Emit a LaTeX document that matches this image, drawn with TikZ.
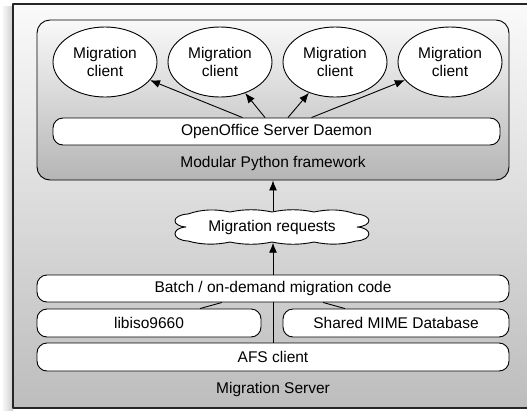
\documentclass[tikz,border=0pt]{standalone}
\usepackage{fontspec}
\setmainfont{Liberation Sans}
\usetikzlibrary{arrows.meta,calc,shapes.geometric}

\begin{document}
\begin{tikzpicture}[x=1pt,y=-1pt,>={Latex[length=10pt,width=8pt]},line join=round,
  every node/.style={font=\fontsize{15.5}{18}\selectfont,align=center,inner sep=0pt},
  client/.style={ellipse,draw,fill=white,line width=0.9pt,minimum width=104pt,minimum height=70pt},
  bar/.style={rectangle,rounded corners=10pt,draw,fill=white,line width=0.9pt,minimum height=27pt},
  link/.style={line width=0.9pt}]
  \clip (0,0) rectangle (527,410);
  % server box and shadow
  \shade[left color=white,right color=gray!40] (1,6) rectangle (13,410);
  \shade[top color=gray!4,bottom color=gray!52] (13,4) rectangle (560,408);
  \draw[line width=1.1pt,black!85] (13,4) rectangle (560,408);
  % python framework
  \node[draw,rounded corners=13pt,top color=gray!5,bottom color=gray!58,line width=0.9pt,
    minimum width=472pt,minimum height=160pt] (fw) at (273,100) {};
  \node[client] (c1) at (105,62) {Migration\\client};
  \node[client] (c2) at (220,62) {Migration\\client};
  \node[client] (c3) at (335,62) {Migration\\client};
  \node[client] (c4) at (450,62) {Migration\\client};
  \node[bar,minimum width=447pt] (daemon) at (276.5,131.5) {OpenOffice Server Daemon};
  \node (fwlabel) at (273,163) {Modular Python framework};
  \coordinate (d1) at ($(daemon.north)+(-34,0)$);
  \coordinate (d2) at ($(daemon.north)+(-11.5,0)$);
  \coordinate (d3) at ($(daemon.north)+(11.5,0)$);
  \coordinate (d4) at ($(daemon.north)+(35,0)$);
  \draw[link,->] (d1) -- (c1);
  \draw[link,->] (d2) -- (c2);
  \draw[link,->] (d3) -- (c3);
  \draw[link,->] (d4) -- (c4);
  % requests cloud
  \begin{scope}[shift={(272,227)}]
    \draw[link,fill=white] (-84,-13) .. controls (-70,-18) and (-56,-18) .. (-42,-15)
      .. controls (-28,-18) and (-14,-18) .. (0,-15)
      .. controls (14,-18) and (28,-18) .. (42,-15)
      .. controls (56,-18) and (70,-18) .. (84,-13)
      .. controls (101,-12) and (101,-1) .. (85,0)
      .. controls (101,1) and (101,13) .. (84,14)
      .. controls (70,18) and (56,18) .. (42,15)
      .. controls (28,18) and (14,18) .. (0,15)
      .. controls (-14,18) and (-28,18) .. (-42,15)
      .. controls (-56,18) and (-70,18) .. (-84,14)
      .. controls (-101,13) and (-101,1) .. (-86,0)
      .. controls (-101,-1) and (-101,-12) .. (-84,-13) -- cycle;
  \end{scope}
  \node[minimum width=195pt,minimum height=31pt] (req) at (272,227) {Migration requests};
  \draw[link,->] (req.north -| fw.south) -- (fw.south);
  % migration server stack
  \node[bar,minimum width=472pt] (batch) at (273,288.5) {Batch / on-demand migration code};
  \node[bar,minimum width=224pt,minimum height=28pt] (libiso) at (149,323) {libiso9660};
  \node[bar,minimum width=226pt,minimum height=28pt] (mime) at (396,323) {Shared MIME Database};
  \node[bar,minimum width=472pt,minimum height=28pt] (afs) at (273,357) {AFS client};
  \node (srvlabel) at (273,389) {Migration Server};
  \draw[link,->] (batch.north) -- (batch.north |- req.south);
  \draw[link] (afs.north) -- (batch.south);
  \draw[link] ($(libiso.north)+(51,0)$) -- ($(batch.south)+(-51,0)$);
  \draw[link] ($(mime.north)+(-51,0)$) -- ($(batch.south)+(50,0)$);
\end{tikzpicture}
\end{document}
